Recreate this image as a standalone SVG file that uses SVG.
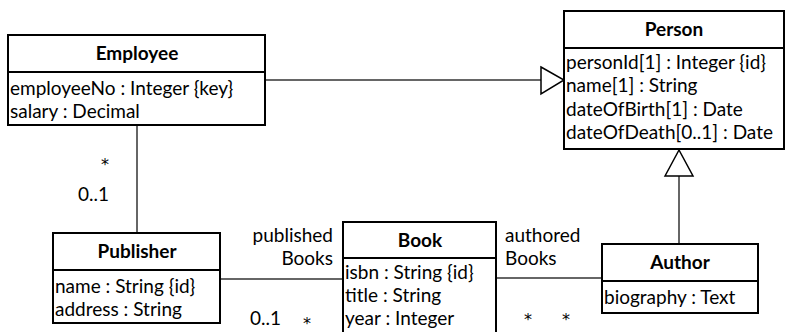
<svg xmlns="http://www.w3.org/2000/svg" width="786" height="332" viewBox="0 0 786 332">
<style>
.box{fill:#fff;stroke:#000;stroke-width:2}
.div{stroke:#000;stroke-width:2}
.t{font-family:Lato,"Liberation Sans",sans-serif;font-size:19px;fill:#000}
.s{font-family:"DejaVu Sans",sans-serif;font-size:16px;fill:#000}
.h{font-family:Lato,"Liberation Sans",sans-serif;font-size:19px;font-weight:bold;fill:#000;text-anchor:middle}
.c{fill:none;stroke:#333;stroke-width:1.5}
.gen{fill:#fff;stroke:#000;stroke-width:1.5}
</style>
<rect width="786" height="332" fill="#fff"/>
<g id="connectors">
<line class="c" x1="265" y1="80" x2="541" y2="80"/>
<polygon class="gen" points="541,67 564,80 541,94"/>
<line class="c" x1="679" y1="244" x2="679" y2="176"/>
<polygon class="gen" points="665,176 679,150 693,176"/>
<line class="c" x1="137" y1="125" x2="137" y2="233"/>
<line class="c" x1="220" y1="279" x2="342" y2="279"/>
<line class="c" x1="496" y1="278" x2="602" y2="278"/>
<text class="s" x="101" y="170">*</text>
<text class="t" x="78" y="201">0..1</text>
<text class="t" x="333" y="242" text-anchor="end">published</text>
<text class="t" x="333" y="265" text-anchor="end">Books</text>
<text class="t" x="250" y="325">0..1</text>
<text class="s" x="303" y="329">*</text>
<text class="s" x="524" y="325">*</text>
<text class="s" x="562" y="325">*</text>
<text class="t" x="505" y="242">authored</text>
<text class="t" x="505" y="265">Books</text>
</g>
<g id="Employee">
<rect class="box" x="8" y="35" width="257" height="90"/>
<line class="div" x1="8" y1="72" x2="265" y2="72"/>
<text class="h" x="137" y="60">Employee</text>
<text class="t" x="10" y="95">employeeNo : Integer {key}</text>
<text class="t" x="10" y="118">salary : Decimal</text>
</g>
<g id="Person">
<rect class="box" x="564" y="11" width="220" height="138"/>
<line class="div" x1="564" y1="48" x2="784" y2="48"/>
<text class="h" x="674" y="36">Person</text>
<text class="t" x="566" y="69">personId[1] : Integer {id}</text>
<text class="t" x="566" y="92">name[1] : String</text>
<text class="t" x="566" y="116">dateOfBirth[1] : Date</text>
<text class="t" x="566" y="139">dateOfDeath[0..1] : Date</text>
</g>
<g id="Publisher">
<rect class="box" x="53" y="233" width="167" height="90"/>
<line class="div" x1="53" y1="270" x2="220" y2="270"/>
<text class="h" x="137" y="258">Publisher</text>
<text class="t" x="55" y="293">name : String {id}</text>
<text class="t" x="55" y="316">address : String</text>
</g>
<g id="Book">
<rect class="box" x="343" y="222" width="153" height="120"/>
<line class="div" x1="343" y1="258" x2="496" y2="258"/>
<text class="h" x="420" y="247">Book</text>
<text class="t" x="345" y="279">isbn : String {id}</text>
<text class="t" x="345" y="302">title : String</text>
<text class="t" x="345" y="325">year : Integer</text>
</g>
<g id="Author">
<rect class="box" x="602" y="244" width="156" height="69"/>
<line class="div" x1="602" y1="281" x2="758" y2="281"/>
<text class="h" x="680" y="269">Author</text>
<text class="t" x="604" y="304">biography : Text</text>
</g>
</svg>
